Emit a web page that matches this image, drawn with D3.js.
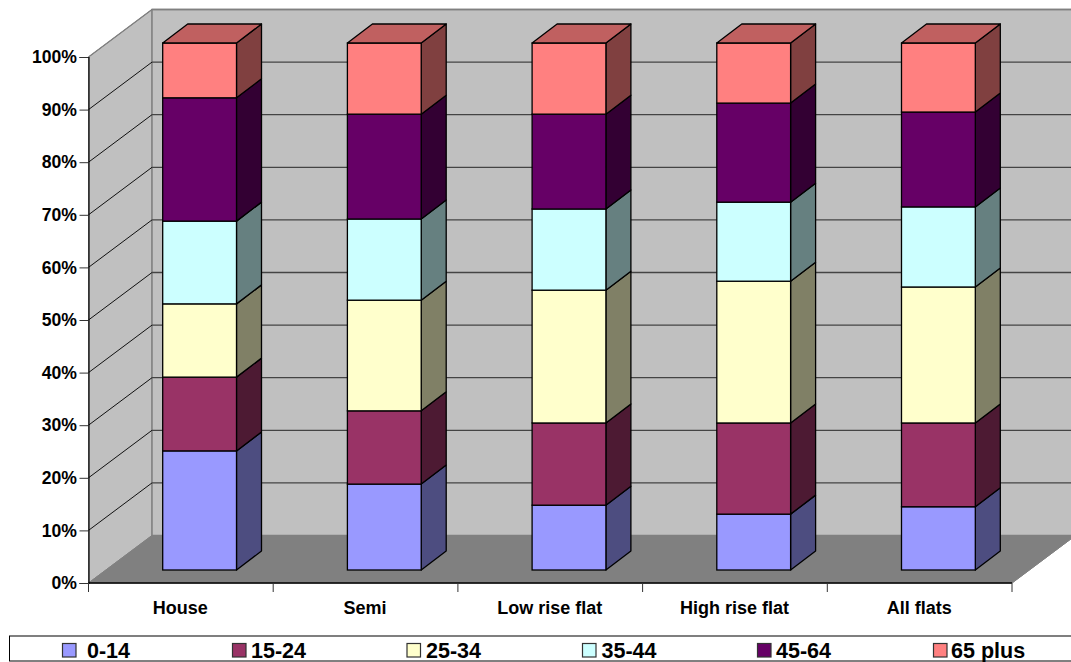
<!DOCTYPE html>
<html><head><meta charset="utf-8">
<script src="https://cdn.jsdelivr.net/npm/d3@7/dist/d3.min.js"></script>
<style>html,body{margin:0;padding:0;background:#fff;overflow:hidden}svg{display:block}text{font-family:"Liberation Sans",Arial,sans-serif;font-weight:bold;fill:#000}</style>
</head><body><svg id="c" width="1071" height="662"></svg>
<script>
const categories=["House","Semi","Low rise flat","High rise flat","All flats"];
const seriesNames=["0-14","15-24","25-34","35-44","45-64","65 plus"];
const age0014=[22.6,16.3,12.3,10.6,12.0];
const age1524=[14.0,13.9,15.6,17.3,15.9];
const age2534=[13.9,21.0,25.2,26.9,25.8];
const age3544=[15.7,15.4,15.4,15.0,15.2];
const age4564=[23.4,19.9,18.0,18.8,18.0];
const age65=[10.4,13.5,13.5,11.4,13.1];
const seriesValues=[age0014,age1524,age2534,age3544,age4564,age65];
const colors=["#9999ff","#993366","#ffffcc","#ccffff","#660066","#ff8080"];
const sideColors=["#4d4d80","#4d1a33","#808066","#668080","#330033","#804040"];
const topColor="#c06060";
const ticks=d3.range(0,101,10);

const svg=d3.select("#c");
const x=d3.scaleBand().domain(categories).range([88.5,1012]);
const y=d3.scaleLinear().domain([0,100]).range([583,57]);
const wallD={x:63.5,y:-47.5}, barD={x:25,y:-19};
const barOff={x:74.2,y:-13}, barW=73.8;
const path=p=>d3.line()(p)+"Z";
const [x0,x1]=x.range();

// walls and floor
svg.append("path").attr("d",path([[x0,y(0)],[x0+wallD.x,y(0)+wallD.y],[x0+wallD.x,y(100)+wallD.y],[x0,y(100)]])).attr("fill","#c0c0c0").attr("stroke","#808080").attr("stroke-width",1);
svg.append("rect").attr("x",x0+wallD.x).attr("y",y(100)+wallD.y).attr("width",1071-x0-wallD.x+5).attr("height",y(0)-y(100)).attr("fill","#c0c0c0").attr("stroke","#808080").attr("stroke-width",1.5);
svg.append("path").attr("d",path([[x0,y(0)],[x1,y(0)],[x1+wallD.x,y(0)+wallD.y],[x0+wallD.x,y(0)+wallD.y]])).attr("fill","#808080").attr("stroke","#808080");

// gridlines
const grid=svg.append("g");
ticks.slice(1,-1).forEach(t=>{
  grid.append("line").attr("x1",x0).attr("y1",y(t)).attr("x2",x0+wallD.x).attr("y2",y(t)+wallD.y).attr("stroke","#111").attr("stroke-width",1);
  grid.append("line").attr("x1",x0+wallD.x).attr("y1",y(t)+wallD.y).attr("x2",1071).attr("y2",y(t)+wallD.y).attr("stroke","#444").attr("stroke-width",1.3);
});
grid.append("line").attr("x1",x0+wallD.x).attr("x2",1071).attr("y1",y(100)+wallD.y).attr("y2",y(100)+wallD.y).attr("stroke","#808080").attr("stroke-width",1.5);
svg.append("line").attr("x1",x0).attr("x2",x0+wallD.x).attr("y1",y(100)).attr("y2",y(100)+wallD.y).attr("stroke","#808080").attr("stroke-width",1.2);

// bars
const by=d3.scaleLinear().domain([0,100]).range([y(0)+barOff.y,y(100)+barOff.y-1]);
categories.forEach((c,i)=>{
  const g=svg.append("g");
  const L=x(c)+barOff.x,R=L+barW;
  let cum=0;
  seriesValues.forEach((s,k)=>{
    const a=by(cum),b=by(cum+s[i]);cum+=s[i];
    g.append("path").attr("d",path([[R,a],[R+barD.x,a+barD.y],[R+barD.x,b+barD.y],[R,b]])).attr("fill",sideColors[k]).attr("stroke","#000").attr("stroke-width",1.3).attr("stroke-linejoin","round");
    g.append("rect").attr("x",L).attr("y",b).attr("width",barW).attr("height",a-b).attr("fill",colors[k]).attr("stroke","#000").attr("stroke-width",1.3);
  });
  const t=by(100);
  g.append("path").attr("d",path([[L,t],[R,t],[R+barD.x,t+barD.y],[L+barD.x,t+barD.y]])).attr("fill",topColor).attr("stroke","#000").attr("stroke-width",1.3).attr("stroke-linejoin","round");
});

// axes
const ya=svg.append("g").attr("transform",`translate(${x0},0)`).call(d3.axisLeft(y).tickValues(ticks).tickFormat(d=>d+"%").tickSize(9).tickPadding(2.5));
ya.selectAll("path").attr("stroke","#000").attr("stroke-width",1.2);
ya.selectAll("line").attr("stroke","#333").attr("stroke-width",1);
ya.selectAll("text").style("font-size","17.6px");
const boundaries=d3.range(categories.length+1).map(i=>x0+i*x.step());
svg.append("line").attr("x1",x0).attr("x2",x1).attr("y1",y(0)).attr("y2",y(0)).attr("stroke","#000").attr("stroke-width",1.3);
svg.selectAll(".xt").data(boundaries).join("line").attr("x1",d=>d).attr("x2",d=>d).attr("y1",y(0)).attr("y2",y(0)+9).attr("stroke","#333").attr("stroke-width",1);
svg.selectAll(".xl").data(categories).join("text").attr("x",d=>x(d)+x.bandwidth()/2-0.5).attr("y",614).attr("text-anchor","middle").style("font-size","18px").text(d=>d);
svg.append("line").attr("x1",x1).attr("x2",x1+wallD.x).attr("y1",y(0)).attr("y2",y(0)+wallD.y).attr("stroke","#808080");

// legend
svg.append("rect").attr("x",9.5).attr("y",636).attr("width",1070).attr("height",25).attr("fill","#fff").attr("stroke","#000").attr("stroke-width",1);
const lg=d3.scaleOrdinal().domain(seriesNames).range([62,232,406.5,582,757,933]);
const lt=d3.scaleOrdinal().domain(seriesNames).range([87,251,426,601.5,776,951]);
seriesNames.forEach((n,k)=>{
  svg.append("rect").attr("x",lg(n)+.5).attr("y",643.5).attr("width",13.5).attr("height",13.5).attr("fill",colors[k]).attr("stroke","#333").attr("stroke-width",1.2);
  svg.append("text").attr("x",lt(n)).attr("y",658).style("font-size","21.5px").text(n);
});
</script></body></html>
